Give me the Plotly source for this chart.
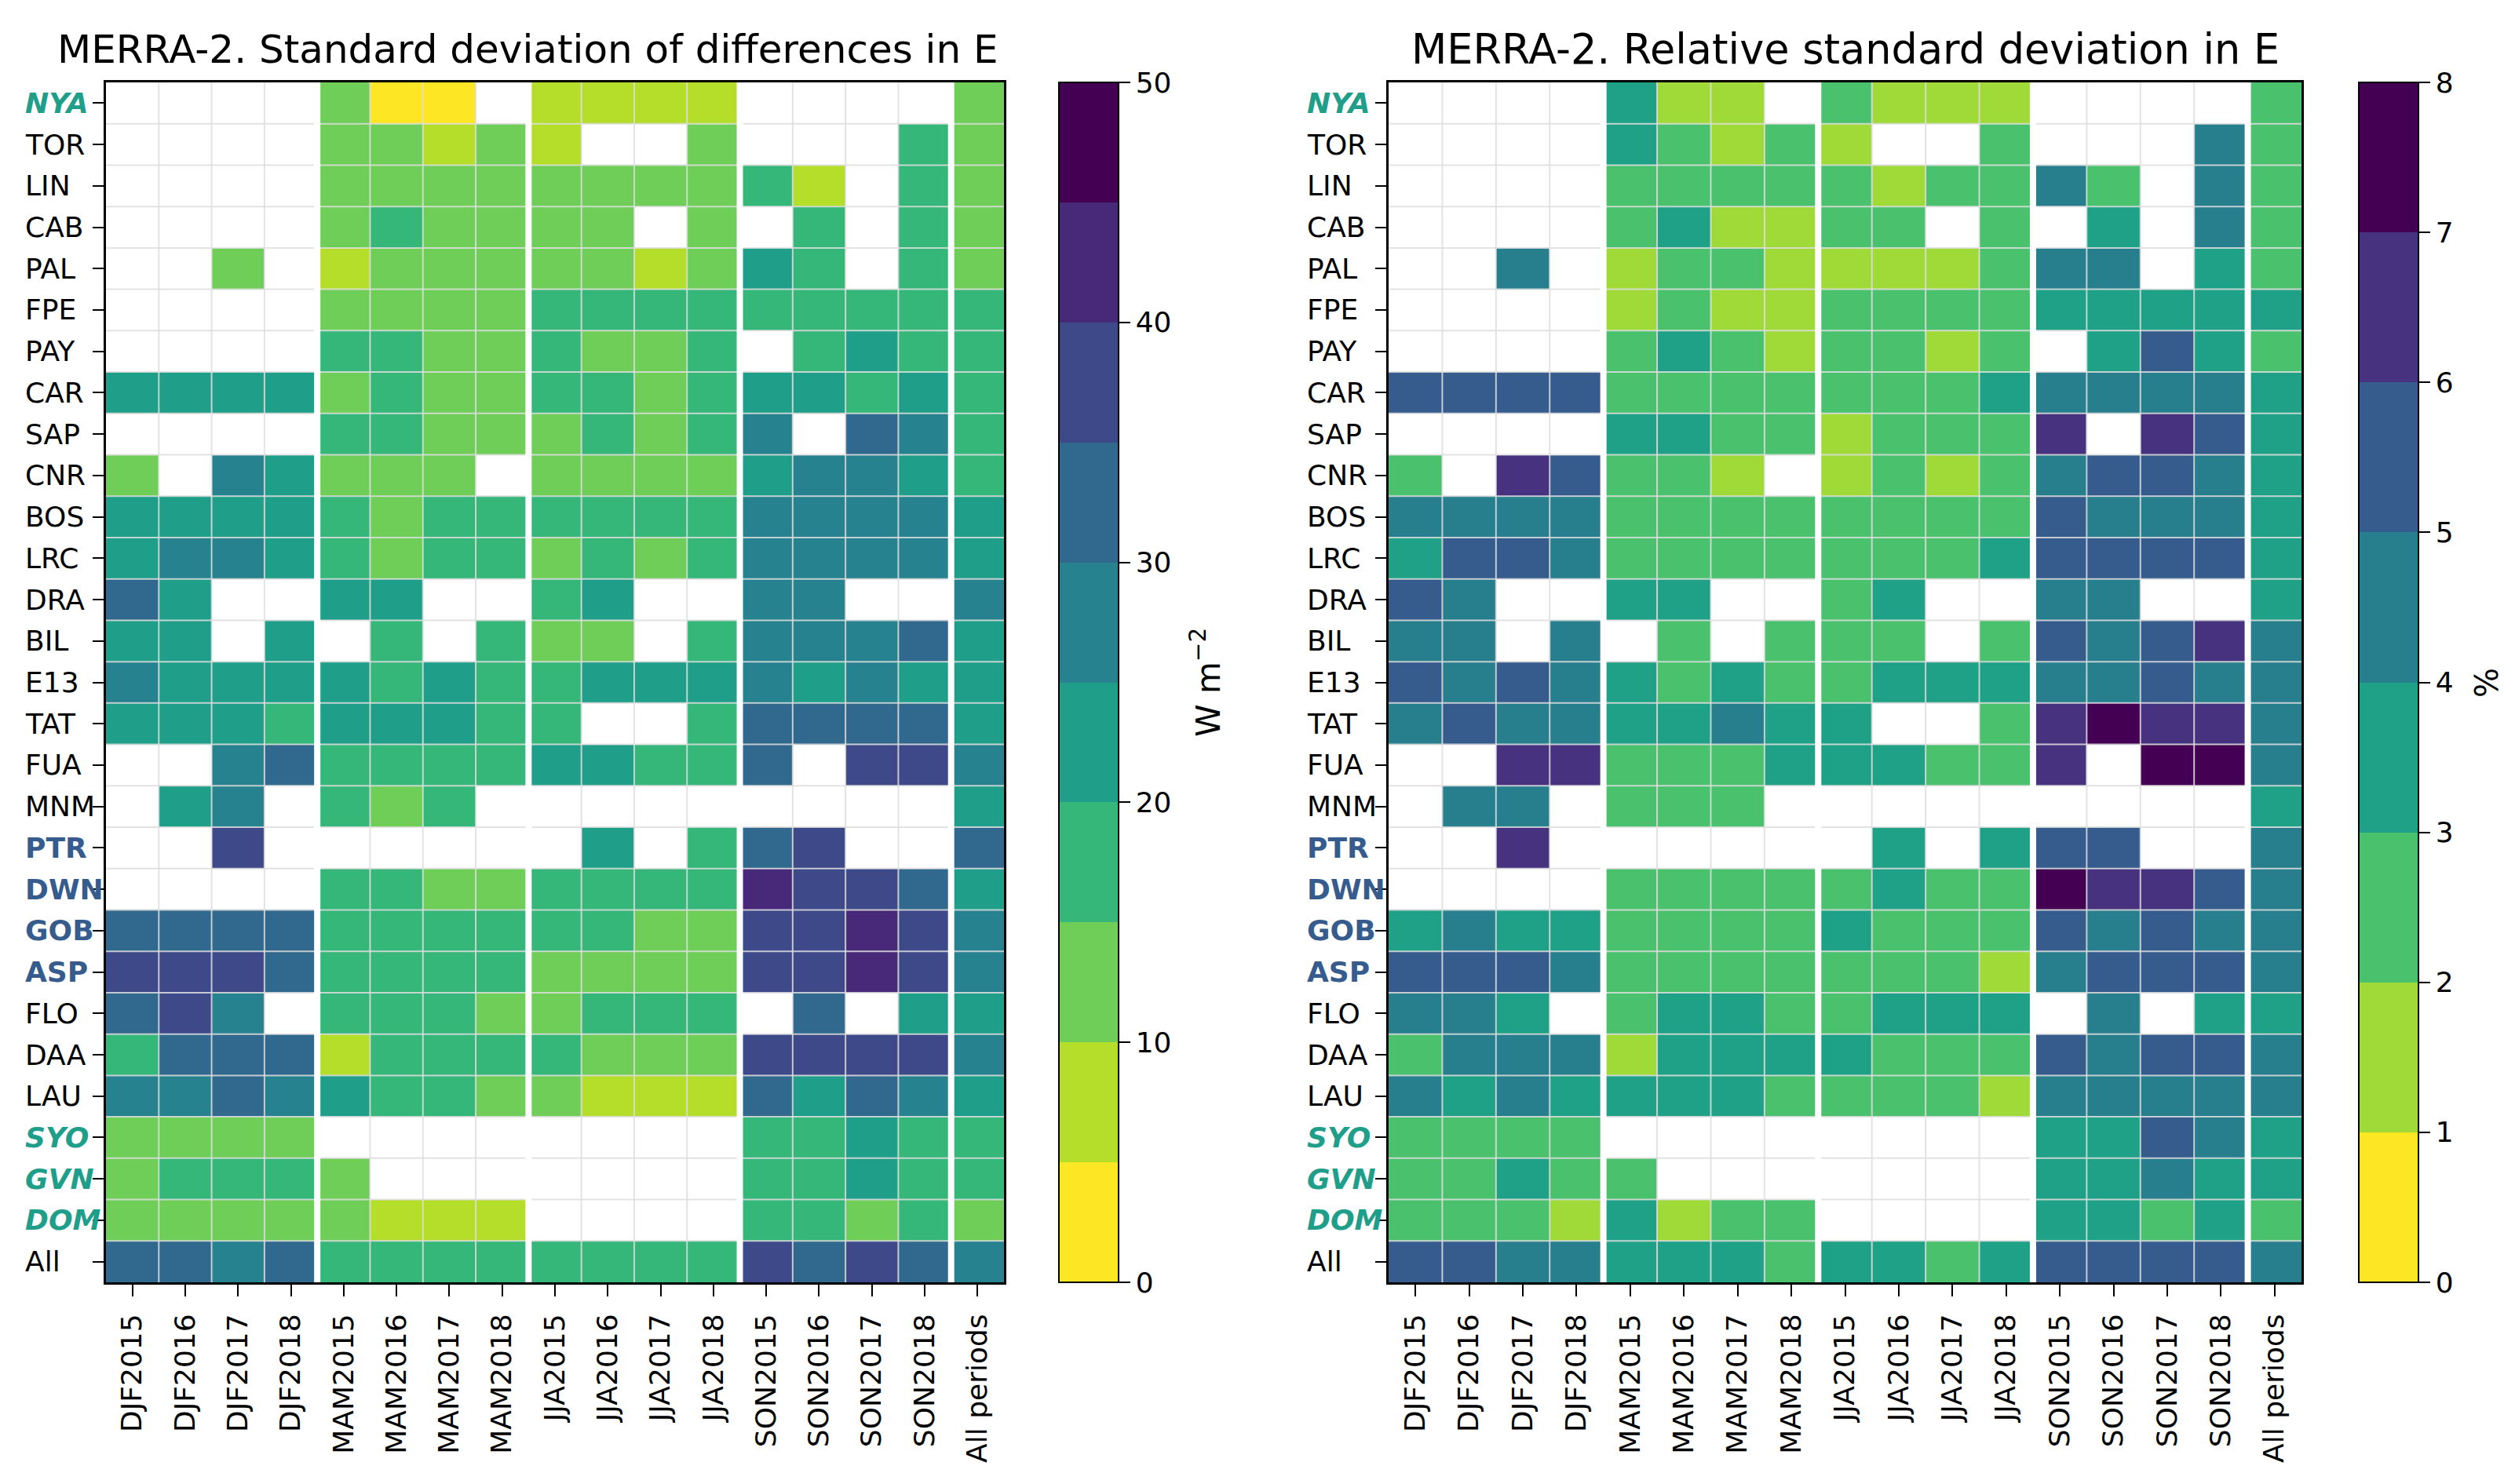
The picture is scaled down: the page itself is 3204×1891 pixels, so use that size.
import plotly.graph_objects as go

N = None
stations = ["NYA","TOR","LIN","CAB","PAL","FPE","PAY","CAR","SAP","CNR","BOS","LRC","DRA","BIL","E13","TAT","FUA","MNM","PTR","DWN","GOB","ASP","FLO","DAA","LAU","SYO","GVN","DOM","All"]
periods = ["DJF2015","DJF2016","DJF2017","DJF2018","MAM2015","MAM2016","MAM2017","MAM2018","JJA2015","JJA2016","JJA2017","JJA2018","SON2015","SON2016","SON2017","SON2018","All periods"]
teal_sites = ["NYA","SYO","GVN","DOM"]
blue_sites = ["PTR","DWN","GOB","ASP"]

sd_diff = [
 [N,N,N,N,12,2,2,N,7,7,7,7,N,N,N,N,12],
 [N,N,N,N,12,12,7,12,7,N,N,12,N,N,N,17,12],
 [N,N,N,N,12,12,12,12,12,12,12,12,17,7,N,17,12],
 [N,N,N,N,12,17,12,12,12,12,N,12,N,17,N,17,12],
 [N,N,12,N,7,12,12,12,12,12,7,12,22,17,N,17,12],
 [N,N,N,N,12,12,12,12,17,17,17,17,17,17,17,17,17],
 [N,N,N,N,17,17,12,12,17,12,12,17,N,17,22,17,17],
 [22,22,22,22,12,17,12,12,17,17,12,17,22,22,17,22,17],
 [N,N,N,N,17,17,12,12,12,17,12,17,27,N,32,27,17],
 [12,N,27,22,12,12,12,N,12,12,12,12,22,27,27,22,17],
 [22,22,22,22,17,12,17,17,17,17,17,17,27,27,27,27,22],
 [22,27,27,22,17,12,17,17,12,17,12,17,27,27,27,27,22],
 [32,22,N,N,22,22,N,N,17,22,N,N,27,27,N,N,27],
 [22,22,N,22,N,17,N,17,12,12,N,17,27,27,27,32,22],
 [27,22,22,22,22,17,22,17,17,22,22,22,27,22,27,22,22],
 [22,22,22,17,22,22,22,17,17,N,N,17,32,32,32,32,22],
 [N,N,27,32,17,17,17,17,22,22,17,17,32,N,37,37,27],
 [N,22,27,N,17,12,17,N,N,N,N,N,N,N,N,N,22],
 [N,N,37,N,N,N,N,N,N,22,N,17,32,37,N,N,32],
 [N,N,N,N,17,17,12,12,17,17,17,17,42,37,37,32,22],
 [32,32,32,32,17,17,17,17,17,17,12,12,37,37,42,37,27],
 [37,37,37,32,17,17,17,17,12,12,12,12,37,37,42,37,27],
 [32,37,27,N,17,17,17,12,12,17,17,17,N,32,N,22,22],
 [17,32,32,32,7,17,17,17,17,12,12,12,37,37,37,37,27],
 [27,27,32,27,22,17,17,12,12,7,7,7,32,22,32,27,22],
 [12,12,12,12,N,N,N,N,N,N,N,N,17,17,22,17,17],
 [12,17,17,17,12,N,N,N,N,N,N,N,17,17,22,17,17],
 [12,12,12,12,12,7,7,7,N,N,N,N,17,17,12,17,12],
 [32,32,27,32,17,17,17,17,17,17,17,17,37,32,37,32,27],
]
rel_sd = [
 [N,N,N,N,3.5,1.5,1.5,N,2.5,1.5,1.5,1.5,N,N,N,N,2.5],
 [N,N,N,N,3.5,2.5,1.5,2.5,1.5,N,N,2.5,N,N,N,4.5,2.5],
 [N,N,N,N,2.5,2.5,2.5,2.5,2.5,1.5,2.5,2.5,4.5,2.5,N,4.5,2.5],
 [N,N,N,N,2.5,3.5,1.5,1.5,2.5,2.5,N,2.5,N,3.5,N,4.5,2.5],
 [N,N,4.5,N,1.5,2.5,2.5,1.5,1.5,1.5,1.5,2.5,4.5,4.5,N,3.5,2.5],
 [N,N,N,N,1.5,2.5,1.5,1.5,2.5,2.5,2.5,2.5,3.5,3.5,3.5,3.5,3.5],
 [N,N,N,N,2.5,3.5,2.5,1.5,2.5,2.5,1.5,2.5,N,3.5,5.5,3.5,2.5],
 [5.5,5.5,5.5,5.5,2.5,2.5,2.5,2.5,2.5,2.5,2.5,3.5,4.5,4.5,4.5,4.5,3.5],
 [N,N,N,N,3.5,3.5,2.5,2.5,1.5,2.5,2.5,2.5,6.5,N,6.5,5.5,3.5],
 [2.5,N,6.5,5.5,2.5,2.5,1.5,N,1.5,2.5,1.5,2.5,4.5,5.5,5.5,4.5,3.5],
 [4.5,4.5,4.5,4.5,2.5,2.5,2.5,2.5,2.5,2.5,2.5,2.5,5.5,4.5,4.5,4.5,3.5],
 [3.5,5.5,5.5,4.5,2.5,2.5,2.5,2.5,2.5,2.5,2.5,3.5,5.5,5.5,5.5,5.5,3.5],
 [5.5,4.5,N,N,3.5,3.5,N,N,2.5,3.5,N,N,4.5,4.5,N,N,3.5],
 [4.5,4.5,N,4.5,N,2.5,N,2.5,2.5,2.5,N,2.5,5.5,4.5,5.5,6.5,4.5],
 [5.5,4.5,5.5,4.5,3.5,2.5,3.5,2.5,2.5,3.5,3.5,3.5,4.5,4.5,5.5,4.5,4.5],
 [4.5,5.5,4.5,4.5,3.5,3.5,4.5,3.5,3.5,N,N,2.5,6.5,7.5,6.5,6.5,4.5],
 [N,N,6.5,6.5,2.5,2.5,2.5,3.5,3.5,3.5,2.5,2.5,6.5,N,7.5,7.5,4.5],
 [N,4.5,4.5,N,2.5,2.5,2.5,N,N,N,N,N,N,N,N,N,3.5],
 [N,N,6.5,N,N,N,N,N,N,3.5,N,3.5,5.5,5.5,N,N,4.5],
 [N,N,N,N,2.5,2.5,2.5,2.5,2.5,3.5,2.5,2.5,7.5,6.5,6.5,5.5,4.5],
 [3.5,4.5,3.5,3.5,2.5,2.5,2.5,2.5,3.5,2.5,2.5,2.5,5.5,4.5,5.5,4.5,4.5],
 [5.5,5.5,5.5,4.5,2.5,2.5,2.5,2.5,2.5,2.5,2.5,1.5,4.5,5.5,5.5,5.5,4.5],
 [4.5,4.5,3.5,N,2.5,3.5,3.5,2.5,2.5,3.5,3.5,3.5,N,4.5,N,3.5,3.5],
 [2.5,4.5,4.5,4.5,1.5,3.5,3.5,3.5,3.5,2.5,2.5,2.5,5.5,4.5,5.5,5.5,4.5],
 [4.5,3.5,4.5,3.5,3.5,3.5,3.5,2.5,2.5,2.5,2.5,1.5,4.5,4.5,4.5,4.5,4.5],
 [2.5,2.5,2.5,2.5,N,N,N,N,N,N,N,N,3.5,3.5,5.5,4.5,3.5],
 [2.5,2.5,3.5,2.5,2.5,N,N,N,N,N,N,N,3.5,3.5,4.5,3.5,3.5],
 [2.5,2.5,2.5,1.5,3.5,1.5,2.5,2.5,N,N,N,N,3.5,3.5,2.5,3.5,2.5],
 [5.5,5.5,4.5,4.5,3.5,3.5,3.5,2.5,3.5,3.5,2.5,3.5,5.5,5.5,5.5,5.5,4.5],
]
colors_10 = ["#fde725","#b5de2b","#6ece58","#35b779","#1f9e89","#26828e","#31688e","#3e4989","#482878","#440154"]
colors_8 = ["#fde725","#a0da39","#4ac16d","#1fa187","#277f8e","#365c8d","#46327e","#440154"]
ticks_left = [0,10,20,30,40,50]
ticks_right = [0,1,2,3,4,5,6,7,8]
title_left = "MERRA-2. Standard deviation of differences in E"
title_right = "MERRA-2. Relative standard deviation in E"

W, H = 3204, 1891
FONT = "DejaVu Sans"
TICK = 36
def px(x): return x / W
def py(y): return 1 - y / H
def stepped(cols):
    n = len(cols); out = []
    for i, c in enumerate(cols):
        out += [[i / n, c], [(i + 1) / n, c]]
    return out

fig = go.Figure()
def panel(idx, z, cols, zmax, ticks, xd, cbx):
    xa, ya = ("x", "y") if idx == 1 else ("x2", "y2")
    fig.add_trace(go.Heatmap(
        z=z, x=periods, y=stations, xaxis=xa, yaxis=ya,
        colorscale=stepped(cols), zmin=0, zmax=zmax, hoverongaps=False,
        colorbar=dict(
            x=px(cbx), xanchor="left", xref="paper", y=py(1634), yanchor="bottom", yref="paper",
            len=(1634 - 105) / H, lenmode="fraction", thickness=76, thicknessmode="pixels",
            tickmode="array", tickvals=ticks, ticktext=[str(t) for t in ticks],
            ticks="outside", ticklen=14, tickwidth=2, tickcolor="black",
            tickfont=dict(family=FONT, size=TICK, color="black"),
            outlinewidth=2, outlinecolor="black", xpad=0, ypad=0,
        ),
    ))
    axx = dict(domain=[px(xd[0]), px(xd[1])], type="category", categoryorder="array", categoryarray=periods,
               tickangle=-90, ticks="outside", ticklen=15, tickwidth=2, tickcolor="black", ticklabelstandoff=8,
               tickfont=dict(family=FONT, size=TICK, color="black"),
               showgrid=False, zeroline=False, showline=True, linecolor="black", linewidth=3, mirror=True,
               anchor=ya, range=[-0.5, 16.5])
    axy = dict(domain=[py(1634), py(105)], type="category", categoryorder="array", categoryarray=stations,
               range=[28.5, -0.5], ticks="outside", ticklen=14, tickwidth=2, tickcolor="black",
               showticklabels=False, showgrid=False, zeroline=False, showline=True, linecolor="black",
               linewidth=3, mirror=True, anchor=xa)
    if idx == 1:
        fig.update_layout(xaxis=axx, yaxis=axy)
    else:
        fig.update_layout(xaxis2=axx, yaxis2=axy)
    # cell borders, then the white season separators
    for i in range(len(periods) - 1):
        fig.add_shape(type="line", xref=xa, yref=ya, x0=i + .5, x1=i + .5, y0=-.5, y1=28.5,
                      line=dict(color="rgba(222,222,222,0.85)", width=2))
    for j in range(len(stations) - 1):
        fig.add_shape(type="line", xref=xa, yref=ya, x0=-.5, x1=16.5, y0=j + .5, y1=j + .5,
                      line=dict(color="rgba(222,222,222,0.85)", width=2))
    for i in (3, 7, 11, 15):
        fig.add_shape(type="line", xref=xa, yref=ya, x0=i + .5, x1=i + .5, y0=-.5, y1=28.5,
                      line=dict(color="white", width=8))

panel(1, sd_diff, colors_10, 50, ticks_left, (135, 1279), 1349)
panel(2, rel_sd, colors_8, 8, ticks_right, (1769, 2932), 3005)

annos = []
def site_labels(left_px, ya):
    for s in stations:
        txt, col = s, "black"
        if s in teal_sites:
            txt, col = f"<b><i>{s}</i></b>", "#1f9e89"
        elif s in blue_sites:
            txt, col = f"<b>{s}</b>", "#365c8d"
        annos.append(dict(text=txt, xref="paper", yref=ya, x=px(left_px), y=s, xanchor="left", yanchor="middle",
                          showarrow=False, font=dict(family=FONT, size=TICK, color=col)))
site_labels(30, "y")
site_labels(1663, "y2")
annos.append(dict(text=title_left, xref="paper", yref="paper", x=px(672), y=py(63), xanchor="center", yanchor="middle",
                  showarrow=False, font=dict(family=FONT, size=50, color="black")))
annos.append(dict(text=title_right, xref="paper", yref="paper", x=px(2351), y=py(63), xanchor="center", yanchor="middle",
                  showarrow=False, font=dict(family=FONT, size=52.5, color="black")))
annos.append(dict(text="W m<sup>−2</sup>", xref="paper", yref="paper", x=px(1536), y=py(870), textangle=-90,
                  xanchor="center", yanchor="middle", showarrow=False, font=dict(family=FONT, size=42, color="black")))
annos.append(dict(text="%", xref="paper", yref="paper", x=px(3168), y=py(870), textangle=-90,
                  xanchor="center", yanchor="middle", showarrow=False, font=dict(family=FONT, size=40, color="black")))

fig.update_layout(width=W, height=H, margin=dict(l=0, r=0, t=0, b=0, autoexpand=False),
                  paper_bgcolor="white", plot_bgcolor="white", annotations=annos, showlegend=False)
fig.write_html("out.html", config=dict(displayModeBar=False), post_script="document.body.style.margin='0';")
